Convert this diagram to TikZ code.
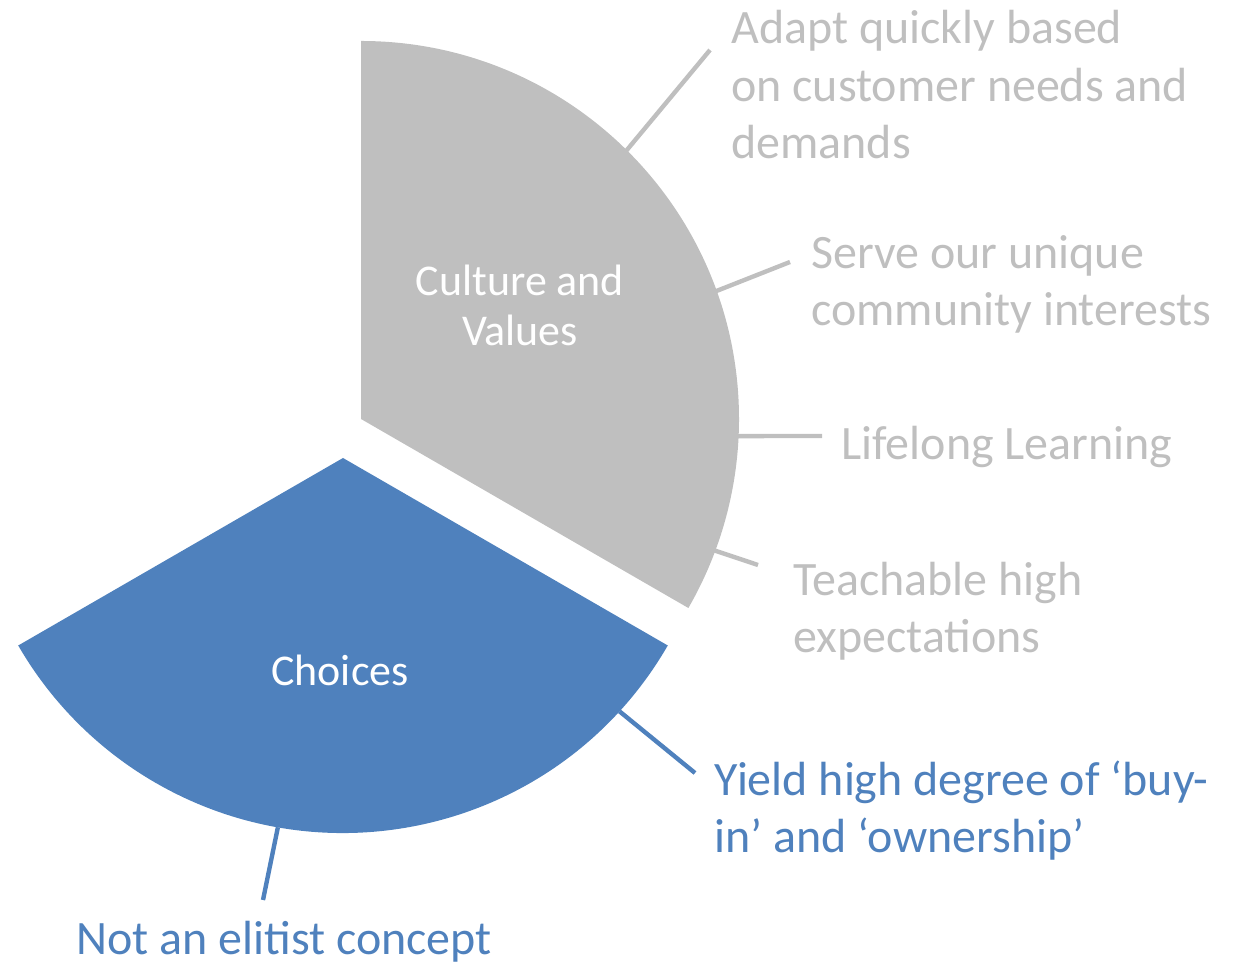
\documentclass[tikz,border=0pt]{standalone}
\usepackage{fontspec}
\setmainfont{Carlito}
\definecolor{pieGray}{HTML}{BFBFBF}
\definecolor{pieBlue}{HTML}{4F81BD}
\newcommand{\calloutFont}{\fontsize{27.3}{33}\selectfont}
\newcommand{\sliceFont}{\fontsize{25}{28.5}\selectfont}

\begin{document}
\begin{tikzpicture}[x=0.02cm, y=0.02cm]
  \tikzset{callout/.style={anchor=base west,align=left,inner sep=0pt,font=\calloutFont},
           leader/.style={line width=2.5pt}}
  \useasboundingbox (0,0) rectangle (1233,962);
  \coordinate (G) at (361,543);
  \coordinate (B) at (343,504);
  \fill[pieGray] (G) -- ++(90:378) arc[start angle=90,end angle=-30,radius=378] -- cycle;
  \fill[pieBlue] (B) -- ++(-30:375) arc[start angle=-30,end angle=-150,radius=375] -- cycle;
  \node[white,align=center,font=\sliceFont] (culture) at (520,657) {Culture and\\Values};
  \node[white,font=\sliceFont] (choices) at (340,292) {Choices};
  \node[callout,pieGray] (adapt) at (731,803) {Adapt quickly based\\on customer needs and\\demands};
  \node[callout,pieGray] (serve) at (811,636) {Serve our unique\\community interests};
  \node[callout,pieGray] (lifelong) at (841,502) {Lifelong Learning};
  \node[callout,pieGray] (teach) at (793,309) {Teachable high\\expectations};
  \node[callout,pieBlue] (yield) at (714,109) {Yield high degree of ‘buy-\\in’ and ‘ownership’};
  \node[callout,pieBlue] (elitist) at (76,7) {Not an elitist concept};
  \path (G) ++(45.3:376) coordinate (adapt-in)
        (G) ++(19.8:377) coordinate (serve-in)
        (G) ++(-2.6:377) coordinate (lifelong-in)
        (G) ++(-20.4:377) coordinate (teach-in)
        (B) ++(-42.5:375) coordinate (yield-in)
        (B) ++(-100:375) coordinate (elitist-in);
  \coordinate (adapt-out) at (710,912);
  \coordinate (serve-out) at (790,700);
  \coordinate (lifelong-out) at (822,526);
  \coordinate (teach-out) at (758,397);
  \coordinate (yield-out) at (695,189);
  \coordinate (elitist-out) at (263,62);
  \draw[leader,pieGray] (adapt-in) -- (adapt-out);
  \draw[leader,pieGray] (serve-in) -- (serve-out);
  \draw[leader,pieGray] (lifelong-in) -- (lifelong-out);
  \draw[leader,pieGray] (teach-in) -- (teach-out);
  \draw[leader,pieBlue] (yield-in) -- (yield-out);
  \draw[leader,pieBlue] (elitist-in) -- (elitist-out);
\end{tikzpicture}
\end{document}
